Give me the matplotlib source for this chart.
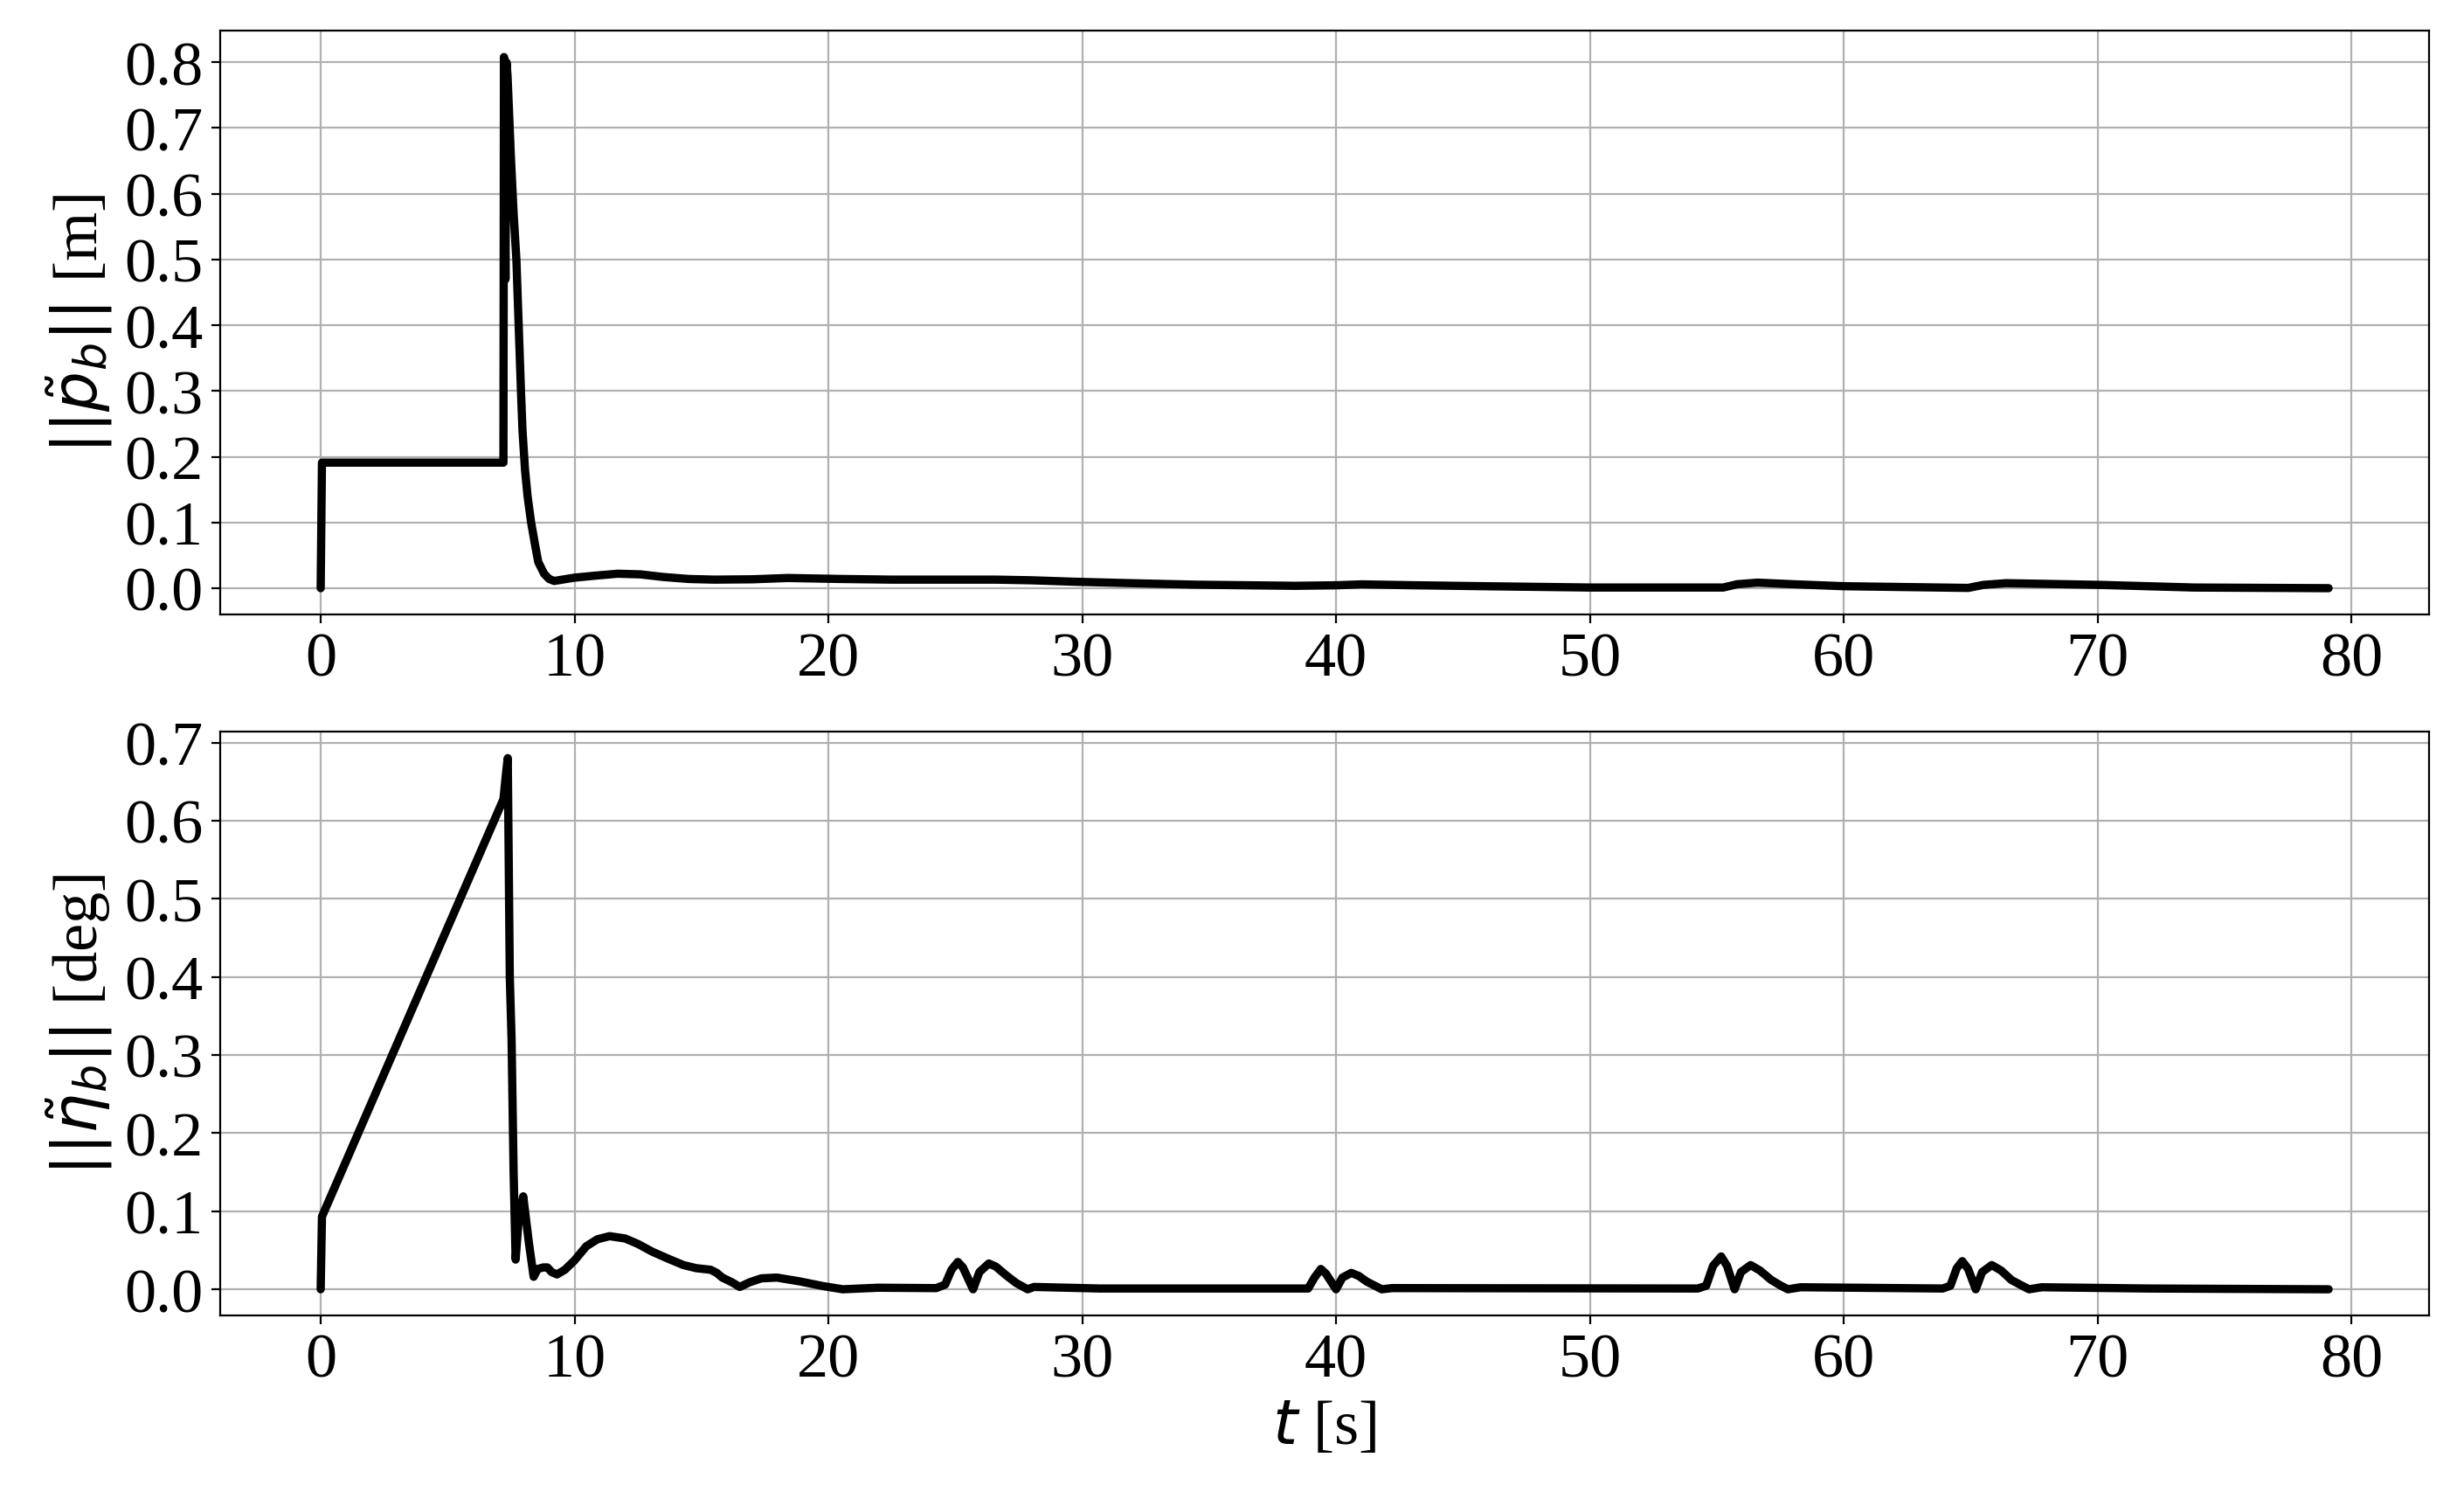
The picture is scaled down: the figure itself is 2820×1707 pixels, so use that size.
import matplotlib
matplotlib.use("Agg")
import matplotlib.pyplot as plt
import matplotlib.ticker as mticker

plt.rcParams.update({
    "font.family": "serif",
    "font.serif": ["Liberation Serif", "DejaVu Serif"],
    "mathtext.fontset": "dejavusans",
    "font.size": 26,
})

# position error norm ||p_b|| [m]
t_p = [0.0, 0.05, 7.2, 7.22, 7.28, 7.32, 7.36, 7.5, 7.6, 7.71, 7.8, 7.89, 7.95,
       8.05, 8.15, 8.29, 8.45, 8.57, 8.8, 9.0, 9.2, 10.0, 10.8, 11.7, 12.6, 13.5,
       14.5, 15.5, 17.0, 18.4, 20.5, 22.5, 26.6, 28.0, 29.7, 32.0, 34.5, 38.4,
       40.0, 41.0, 43.0, 45.8, 50.0, 55.25, 55.8, 56.6, 58.0, 60.0, 64.9, 65.5,
       66.4, 68.0, 70.1, 73.8, 79.1]
p_err = [0.0, 0.191, 0.191, 0.808, 0.47, 0.80, 0.78, 0.65, 0.57, 0.5, 0.4, 0.3,
         0.24, 0.18, 0.14, 0.1, 0.065, 0.04, 0.022, 0.014, 0.011, 0.016, 0.019,
         0.022, 0.021, 0.017, 0.014, 0.013, 0.0135, 0.0155, 0.014, 0.013, 0.013,
         0.012, 0.0098, 0.0075, 0.0053, 0.0036, 0.0044, 0.0058, 0.0045, 0.003,
         0.001, 0.001, 0.006, 0.0084, 0.006, 0.003, 0.0004, 0.005, 0.0076,
         0.0065, 0.005, 0.001, 0.0]

# attitude error norm ||eta_b|| [deg]
t_eta = [0.0, 0.05, 7.2, 7.3, 7.37, 7.45, 7.52, 7.6, 7.68, 7.8, 7.98, 8.2, 8.39,
         8.55, 8.77, 8.93, 9.1, 9.31, 9.62, 10.0, 10.46, 10.9, 11.38, 12.0,
         12.5, 13.07, 13.7, 14.29, 14.8, 15.36, 15.6, 15.82, 16.2, 16.51, 16.9,
         17.36, 17.97, 18.89, 19.8, 20.57, 21.95, 24.25, 24.6, 24.85, 25.1, 25.3,
         25.7, 25.95, 26.32, 26.6, 27.0, 27.4, 27.85, 28.1, 30.7, 38.9, 39.15,
         39.4, 39.6, 40.0, 40.25, 40.6, 40.9, 41.2, 41.8, 42.2, 54.25, 54.58,
         54.85, 55.17, 55.4, 55.7, 55.95, 56.33, 56.7, 57.14, 57.5, 57.8, 58.3,
         63.9, 64.2, 64.45, 64.67, 64.9, 65.2, 65.45, 65.83, 66.2, 66.6, 67.0,
         67.3, 67.8, 72.0, 79.1]
eta_err = [0.0, 0.093, 0.6275, 0.66, 0.68, 0.40, 0.32, 0.15, 0.038, 0.09, 0.119,
           0.06, 0.016, 0.026, 0.028, 0.028, 0.022, 0.019, 0.025, 0.037, 0.055,
           0.064, 0.068, 0.065, 0.058, 0.048, 0.039, 0.031, 0.027, 0.025, 0.021,
           0.015, 0.009, 0.003, 0.009, 0.014, 0.015, 0.010, 0.004, 0.0, 0.002,
           0.0015, 0.006, 0.025, 0.035, 0.028, 0.0, 0.022, 0.033, 0.029, 0.018,
           0.008, 0.0, 0.003, 0.001, 0.001, 0.015, 0.026, 0.02, 0.0, 0.015, 0.021,
           0.017, 0.01, 0.0, 0.0015, 0.001, 0.0045, 0.03, 0.042, 0.03, 0.0, 0.022,
           0.031, 0.024, 0.012, 0.005, 0.0, 0.0026, 0.001, 0.0045, 0.027, 0.036,
           0.026, 0.0, 0.022, 0.031, 0.024, 0.012, 0.005, 0.0, 0.0026, 0.001, 0.0]

fig, (ax1, ax2) = plt.subplots(2, 1, figsize=(14.1, 8.54), dpi=200)
fig.subplots_adjust(left=0.0894, right=0.9858, top=0.979, bottom=0.118, hspace=0.2)

line_kw = dict(color="black", linewidth=3.4, solid_joinstyle="round",
               solid_capstyle="round")

ax1.plot(t_p, p_err, **line_kw)
ax1.set_ylabel(r"$||\tilde{p}_b||$ [m]")
ax1.set_yticks([0.0, 0.1, 0.2, 0.3, 0.4, 0.5, 0.6, 0.7, 0.8])
ax1.grid(True)

ax2.plot(t_eta, eta_err, **line_kw)
ax2.set_ylabel(r"$||\tilde{\eta}_b||$ [deg]")
ax2.set_xlabel(r"$t$ [s]")
ax2.set_yticks([0.0, 0.1, 0.2, 0.3, 0.4, 0.5, 0.6, 0.7])
ax2.grid(True)

for ax in (ax1, ax2):
    ax.set_xticks(range(0, 81, 10))
    ax.yaxis.set_major_formatter(mticker.FormatStrFormatter("%.1f"))

fig.savefig("out.png", dpi=200)
